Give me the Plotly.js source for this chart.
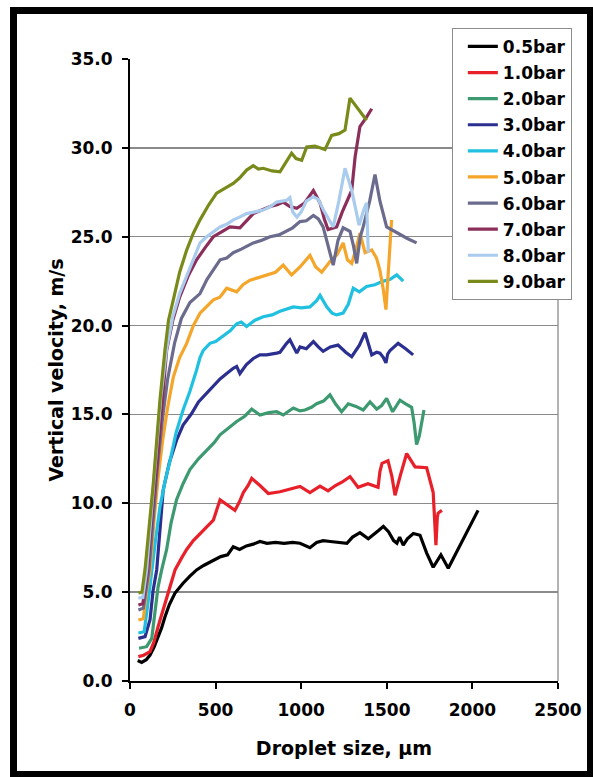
<!DOCTYPE html>
<html>
<head>
<meta charset="utf-8">
<script src="https://cdn.plot.ly/plotly-3.0.1.min.js"></script>
<style>
html,body{margin:0;padding:0;background:#ffffff;}
#wrap{position:relative;width:593px;height:777px;overflow:hidden;background:#fff;}
#chart{position:absolute;left:0;top:0;width:593px;height:777px;}
#frame{position:absolute;left:10px;top:7px;width:583px;height:770px;box-sizing:border-box;border:7px solid #000;border-right-width:6px;border-bottom-width:6px;pointer-events:none;}
</style>
</head>
<body>
<div id="wrap">
<div id="chart"></div>
<div id="frame"></div>
</div>
<script>
// Series names
const seriesNames = ["0.5bar","1.0bar","2.0bar","3.0bar","4.0bar","5.0bar","6.0bar","7.0bar","8.0bar","9.0bar"];
const seriesColors = ["#000000","#e8202a","#3d9970","#2b2f8f","#20c0e0","#f4a52a","#6b6b8e","#8b2f5a","#a9cbee","#7a8a1a"];

// Droplet size (µm) and vertical velocity (m/s) per series
const x05 = [45,68,95,117,140,165,185,204,230,263,290,310,350,389,430,487,530,570,603,640,680,720,759,800,850,900,950,993,1051,1090,1128,1170,1210,1267,1300,1343,1392,1420,1450,1480,1510,1540,1559,1575,1596,1620,1655,1694,1733,1771,1795,1816,1859,1900,1950,2000,2033];
const y05 = [1.15,1.05,1.2,1.46,1.9,2.5,3.0,3.6,4.3,4.95,5.3,5.5,5.9,6.25,6.5,6.8,7.0,7.1,7.55,7.4,7.6,7.7,7.85,7.75,7.8,7.75,7.8,7.75,7.5,7.8,7.9,7.85,7.8,7.75,8.1,8.35,8.0,8.2,8.45,8.7,8.4,7.9,7.75,8.1,7.65,8.0,8.3,8.2,7.2,6.4,6.8,7.1,6.35,7.1,8.0,8.9,9.6];

const x10 = [49,80,117,140,164,190,214,240,263,300,331,370,409,450,487,526,570,613,640,662,690,711,759,808,876,930,993,1051,1110,1157,1200,1240,1285,1332,1390,1449,1460,1472,1507,1530,1548,1580,1616,1665,1733,1771,1780,1787,1795,1800,1822];
const y10 = [1.37,1.45,1.65,2.2,3.05,3.9,4.55,5.4,6.25,6.9,7.4,7.9,8.3,8.7,9.05,10.2,9.9,9.6,10.1,10.6,11.0,11.4,11.0,10.55,10.65,10.8,10.95,10.6,10.97,10.7,11.0,11.2,11.5,10.9,11.1,10.9,11.8,12.25,12.4,11.5,10.45,11.6,12.8,12.05,12.0,10.6,9.0,7.65,9.2,9.45,9.6];

const x20 = [53,97,127,135,150,164,185,214,240,272,310,350,400,448,490,526,575,623,670,711,759,810,857,895,954,993,1022,1060,1090,1130,1168,1200,1236,1275,1320,1362,1402,1441,1470,1499,1534,1577,1610,1645,1660,1674,1690,1704,1717];
const y20 = [1.84,1.93,2.4,3.05,4.3,5.3,6.25,7.4,8.9,10.2,11.1,11.9,12.5,13.0,13.4,13.85,14.25,14.6,14.9,15.3,14.97,15.1,15.15,14.97,15.36,15.2,15.25,15.4,15.6,15.75,16.1,15.6,15.15,15.6,15.45,15.25,15.7,15.3,15.5,15.9,15.15,15.8,15.6,15.4,14.5,13.3,13.8,14.5,15.25];

const x30 = [49,88,117,135,156,175,194,230,272,310,360,400,448,490,526,565,603,623,642,680,720,759,798,857,876,915,934,974,993,1030,1071,1100,1128,1170,1215,1260,1295,1340,1373,1412,1440,1460,1480,1495,1505,1519,1566,1610,1654];
const y30 = [2.4,2.5,3.45,5.1,6.25,8.6,10.75,12.3,13.55,14.4,15.05,15.7,16.2,16.6,17.0,17.3,17.6,17.7,17.3,17.8,18.15,18.35,18.35,18.45,18.5,19.0,19.2,18.45,18.8,18.7,19.1,18.8,18.55,18.8,18.9,18.5,18.25,18.9,19.6,18.35,18.5,18.45,18.2,17.9,18.4,18.6,19.0,18.7,18.35];

const x40 = [49,83,105,127,150,175,204,234,270,310,350,389,409,428,467,500,545,585,623,650,681,730,778,830,876,954,1000,1051,1090,1110,1149,1180,1207,1245,1275,1304,1340,1382,1430,1480,1520,1558,1596];
const y40 = [2.7,2.77,4.4,6.25,8.0,9.8,11.2,12.4,14.0,15.25,16.3,17.5,18.2,18.6,19.0,19.1,19.4,19.7,20.1,20.2,19.95,20.3,20.5,20.6,20.8,21.05,21.0,21.05,21.4,21.7,21.05,20.7,20.6,20.7,21.2,22.1,21.9,22.2,22.3,22.5,22.6,22.85,22.5];

const x50 = [49,78,97,117,140,165,190,220,253,290,331,370,409,450,487,525,565,623,660,701,750,798,850,895,944,993,1051,1085,1120,1168,1210,1245,1270,1295,1320,1343,1373,1412,1440,1460,1480,1495,1505,1519,1528];
const y50 = [3.43,3.5,5.1,6.25,9.0,11.5,13.5,15.4,17.1,18.2,19.0,20.0,20.7,21.1,21.45,21.6,22.1,21.9,22.3,22.55,22.7,22.85,23.0,23.4,22.85,23.3,23.95,23.3,23.0,23.6,24.0,24.65,23.7,23.5,24.3,25.2,24.1,24.25,23.8,23.1,22.0,20.9,22.5,24.45,25.95];

const x60 = [49,78,111,135,160,190,220,260,300,350,409,450,490,526,565,603,650,720,770,818,870,915,950,993,1030,1071,1100,1128,1155,1187,1215,1245,1285,1305,1324,1345,1362,1400,1431,1460,1499,1560,1620,1674];
const y60 = [4.0,4.1,6.25,9.0,12.0,14.8,17.0,19.0,20.4,21.3,21.8,22.6,23.2,23.7,23.8,24.1,24.3,24.65,24.8,25.0,25.1,25.3,25.5,25.85,25.9,26.2,26.0,25.55,24.5,23.4,24.8,25.5,25.3,24.5,23.5,25.0,25.55,27.0,28.5,27.0,25.55,25.2,24.9,24.65];

const x70 = [49,75,103,130,156,185,214,250,290,340,389,440,487,540,584,642,680,720,770,818,860,895,934,974,1020,1071,1110,1135,1157,1207,1240,1266,1295,1315,1343,1380,1412];
const y70 = [4.28,4.35,6.25,9.5,12.05,15.5,18.6,20.3,21.6,22.8,23.7,24.4,25.0,25.3,25.55,25.5,25.9,26.3,26.5,26.7,26.8,26.95,26.7,26.6,26.9,27.6,26.9,26.0,25.4,25.55,26.4,26.95,27.6,29.5,31.2,31.7,32.2];

const x80 = [49,75,97,125,150,180,214,250,290,340,380,409,448,490,526,565,603,640,681,730,778,820,857,915,934,950,975,1000,1030,1071,1100,1130,1160,1187,1220,1256,1295,1338,1365,1382,1392];
const y80 = [4.67,4.7,6.25,9.8,12.5,16.0,18.7,20.5,21.8,23.0,23.9,24.65,25.0,25.3,25.55,25.7,25.95,26.1,26.3,26.4,26.5,26.7,26.95,27.05,27.2,26.4,26.1,26.4,27.0,27.25,27.1,26.5,26.0,25.55,27.0,28.85,27.6,25.65,26.5,26.9,24.1];

const x90 = [49,70,88,110,136,160,175,204,225,253,290,331,370,409,460,506,550,603,640,681,720,750,778,830,876,915,944,970,1003,1032,1080,1139,1178,1220,1256,1285,1330,1382];
const y90 = [4.95,5.0,6.3,8.5,11.1,14.0,15.8,18.6,20.3,21.45,23.0,24.25,25.2,25.95,26.8,27.45,27.7,28.0,28.3,28.75,29.0,28.8,28.85,28.7,28.65,29.3,29.7,29.4,29.3,30.05,30.1,29.9,30.7,30.8,31.0,32.8,32.2,31.55];

const xTickVals = [0,500,1000,1500,2000,2500];
const yTickVals = [0,5,10,15,20,25,30,35];

const xs = [x05,x10,x20,x30,x40,x50,x60,x70,x80,x90];
const ys = [y05,y10,y20,y30,y40,y50,y60,y70,y80,y90];

const FONT = 'DejaVu Sans, Arial, sans-serif';

const traces = seriesNames.map((name, i) => ({
  type: 'scatter',
  mode: 'lines',
  name: name,
  legendgroup: 'g' + i,
  x: xs[i],
  y: ys[i],
  line: {color: seriesColors[i], width: 3.2},
  hoverinfo: 'skip'
}));

const layout = {
  width: 593,
  height: 777,
  margin: {l: 130, r: 35, t: 59, b: 96, pad: 0},
  paper_bgcolor: 'rgba(0,0,0,0)',
  plot_bgcolor: '#ffffff',
  showlegend: true,
  font: {family: FONT, color: '#000', size: 17, weight: 'bold'},
  xaxis: {
    range: [0, 2500],
    tickvals: xTickVals,
    ticktext: xTickVals.map(String),
    showgrid: false,
    zeroline: false,
    showline: true,
    linecolor: '#000',
    linewidth: 2,
    ticks: 'outside',
    ticklen: 6,
    tickwidth: 2,
    tickcolor: '#000',
    ticklabelstandoff: 7,
    tickfont: {family: FONT, size: 17, color: '#000', weight: 'bold'},
    title: {text: 'Droplet size, µm', font: {family: FONT, size: 19, color: '#000', weight: 'bold'}, standoff: 22},
    automargin: false,
    fixedrange: true
  },
  yaxis: {
    range: [0, 35],
    tickvals: yTickVals,
    tickformat: '.1f',
    showgrid: true,
    gridcolor: '#8a8a8a',
    gridwidth: 1.3,
    zeroline: false,
    showline: true,
    linecolor: '#000',
    linewidth: 2,
    ticks: 'outside',
    ticklen: 6,
    tickwidth: 2,
    tickcolor: '#000',
    ticklabelstandoff: 6,
    tickfont: {family: FONT, size: 17, color: '#000', weight: 'bold'},
    title: {text: 'Vertical velocity, m/s', font: {family: FONT, size: 19, color: '#000', weight: 'bold'}, standoff: 2},
    automargin: false,
    fixedrange: true
  },
  legend: {
    x: 0.752,
    y: 1.05,
    xanchor: 'left',
    yanchor: 'top',
    bgcolor: '#ffffff',
    bordercolor: '#8c8c8c',
    borderwidth: 1,
    indentation: 10,
    font: {family: FONT, size: 17, color: '#000', weight: 'bold'},
    traceorder: 'grouped',
    tracegroupgap: 1
  },
  shapes: [
    {type: 'line', xref: 'paper', yref: 'paper', x0: 1, x1: 1, y0: 0, y1: 1,
     line: {color: '#8a8a8a', width: 1.3}, layer: 'below'}
  ]
};

Plotly.newPlot('chart', traces, layout, {displayModeBar: false, staticPlot: true});
</script>
</body>
</html>
